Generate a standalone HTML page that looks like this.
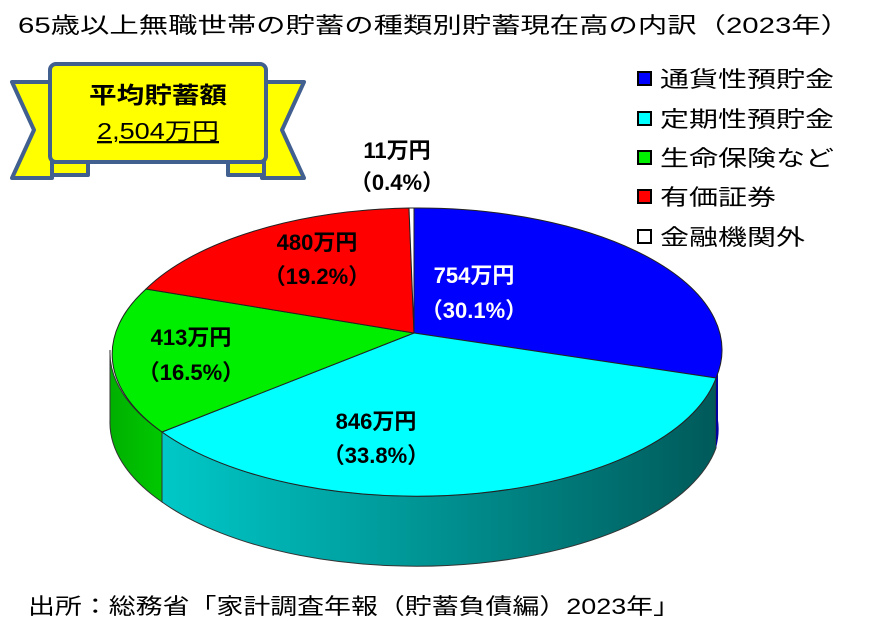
<!DOCTYPE html>
<html><head><meta charset="utf-8"><style>
body{margin:0;background:#fff;}
svg{display:block;font-family:"Liberation Sans","Noto Sans CJK JP",sans-serif;}
</style></head><body>
<svg width="875" height="633" viewBox="0 0 875 633">
<defs>
<linearGradient id="cg" x1="0" x2="1" y1="0" y2="0">
<stop offset="0" stop-color="#00c8c8"/><stop offset="1" stop-color="#005a5a"/>
</linearGradient>
<linearGradient id="gg" x1="0" x2="1"><stop offset="0" stop-color="#00b000"/><stop offset="1" stop-color="#00c800"/></linearGradient>
</defs>
<text x="18" y="33" font-size="22" fill="#000" textLength="832" lengthAdjust="spacingAndGlyphs">65歳以上無職世帯の貯蓄の種類別貯蓄現在高の内訳（2023年）</text>

<!-- ribbon -->
<g stroke="#41608f" stroke-width="4" stroke-linejoin="round" fill="#ffff00">
<polygon points="12,82 52,82 52,178 12,178 34,130"/>
<polygon points="304,82 262,82 262,178 304,178 282,130"/>
<rect x="50" y="64" width="216" height="98" rx="6"/>
<path d="M52,162 L52,175 L88,175 L88,162 Z"/>
<path d="M264,162 L264,175 L228,175 L228,162 Z"/>
</g>
<text x="158" y="103" font-size="23" text-anchor="middle" font-weight="bold" textLength="138" lengthAdjust="spacingAndGlyphs">平均貯蓄額</text>
<text x="158" y="139" font-size="23" text-anchor="middle" text-decoration="underline" textLength="122" lengthAdjust="spacingAndGlyphs">2,504万円</text>

<!-- pie sides -->
<path d="M162,432 A304,142 0 0 0 716,378 L716,448 A304,142 0 0 1 162,502 Z" fill="url(#cg)" stroke="#333" stroke-width="1"/>
<path d="M110,350 A304,142 0 0 0 162,432 L162,502 A304,142 0 0 1 110,420 Z" fill="url(#gg)" stroke="#333" stroke-width="1"/>
<path d="M716,378 A304,142 0 0 0 718,350 L718,420 A304,142 0 0 1 716,448 Z" fill="#0000a0"/>
<!-- top -->
<g stroke="#222" stroke-width="1">
<path d="M414,333 L414,208 A304,142 0 0 1 716,378 Z" fill="#0000ff"/>
<path d="M414,333 L716,378 A304,142 0 0 1 162,432 Z" fill="#00ffff"/>
<path d="M414,333 L162,432 A304,142 0 0 1 146,289 Z" fill="#00ee00"/>
<path d="M414,333 L146,289 A304,142 0 0 1 409,208 Z" fill="#ff0000"/>
<path d="M414,333 L409,208 A304,142 0 0 1 414,208 Z" fill="#ffffff"/>
</g>

<g font-size="22" font-weight="bold" text-anchor="middle">
<text x="397" y="158">11万円</text><text x="397" y="190">（0.4%）</text>
<text x="317" y="250">480万円</text><text x="317" y="284">（19.2%）</text>
<text x="474" y="283" fill="#fff">754万円</text><text x="474" y="318" fill="#fff">（30.1%）</text>
<text x="191" y="345">413万円</text><text x="191" y="380">（16.5%）</text>
<text x="376" y="429">846万円</text><text x="376" y="463">（33.8%）</text>
</g>

<!-- legend -->
<g font-size="22">
<rect x="638" y="72" width="13" height="13" fill="#0000ff" stroke="#000" stroke-width="2"/><text x="660" y="87" textLength="174" lengthAdjust="spacingAndGlyphs">通貨性預貯金</text>
<rect x="638" y="112" width="13" height="13" fill="#00ffff" stroke="#000" stroke-width="2"/><text x="660" y="127" textLength="174" lengthAdjust="spacingAndGlyphs">定期性預貯金</text>
<rect x="638" y="151" width="13" height="13" fill="#00ee00" stroke="#000" stroke-width="2"/><text x="660" y="166" textLength="174" lengthAdjust="spacingAndGlyphs">生命保険など</text>
<rect x="638" y="190" width="13" height="13" fill="#ff0000" stroke="#000" stroke-width="2"/><text x="660" y="205" textLength="116" lengthAdjust="spacingAndGlyphs">有価証券</text>
<rect x="638" y="230" width="13" height="13" fill="#ffffff" stroke="#000" stroke-width="2"/><text x="660" y="245" textLength="145" lengthAdjust="spacingAndGlyphs">金融機関外</text>
</g>

<text x="28" y="614" font-size="22" textLength="652" lengthAdjust="spacingAndGlyphs">出所：総務省「家計調査年報（貯蓄負債編）2023年」</text>
</svg>
</body></html>
